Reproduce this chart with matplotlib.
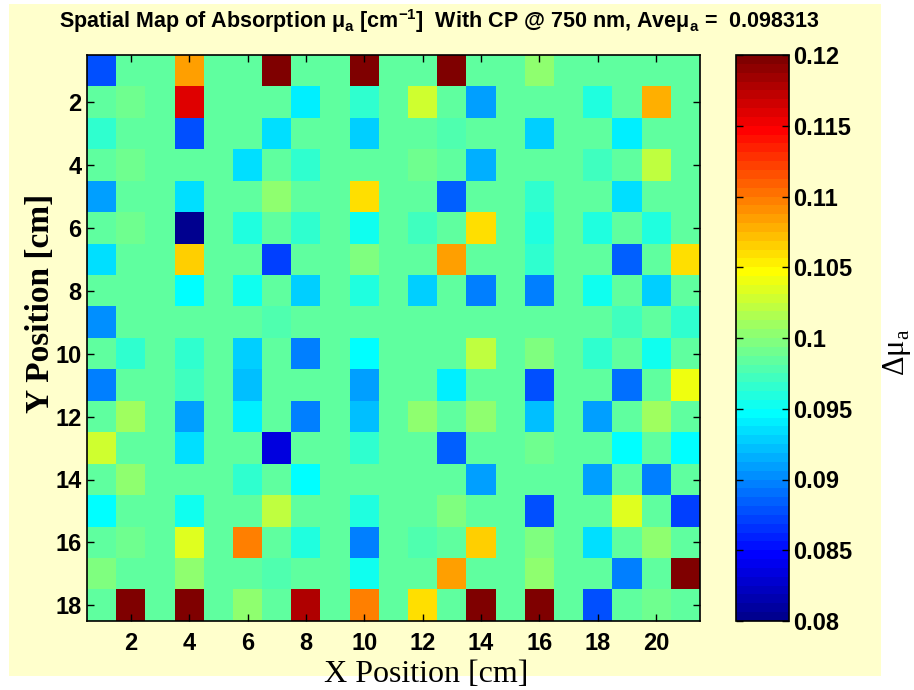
import numpy as np
import matplotlib
matplotlib.use('Agg')
import matplotlib.pyplot as plt
from matplotlib.colors import ListedColormap
from matplotlib.patches import Rectangle

# background absorption level (most cells)
B = 0.0984

# mu_a map, rows = Y position 1..18 (top to bottom), cols = X position 1..21
mu_a = [
    [0.0878, B, B, 0.1084, B, B, 0.12, B, B, 0.12, B, B, 0.12, B, B, 0.1006, B, B, B, B, B],
    [B, 0.099, B, 0.116, B, B, B, 0.0941, B, 0.0968, B, 0.1031, B, 0.0909, B, B, B, 0.096, B, 0.1075, B],
    [0.0968, B, B, 0.0878, B, B, 0.0934, B, B, 0.0928, B, B, 0.0978, B, B, 0.0928, B, B, 0.0941, B, B],
    [B, 0.099, B, B, B, 0.0934, B, 0.0966, B, B, B, 0.099, B, 0.0916, B, B, B, 0.0972, B, 0.1025, B],
    [0.0912, B, B, 0.0934, B, B, 0.1, B, B, 0.1062, B, B, 0.0884, B, B, 0.0966, B, B, 0.0934, B, B],
    [B, 0.099, B, 0.0803, B, 0.096, B, 0.0966, B, 0.0951, B, 0.0972, B, 0.1059, B, 0.096, B, 0.096, B, 0.096, B],
    [0.0934, B, B, 0.1066, B, B, 0.0872, B, B, 0.0997, B, B, 0.1084, B, B, 0.0966, B, B, 0.0884, B, 0.1059],
    [B, B, B, 0.0948, B, 0.0951, B, 0.0928, B, 0.096, B, 0.0928, B, 0.0897, B, 0.09, B, 0.0951, B, 0.0928, B],
    [0.0906, B, B, B, B, B, 0.0978, B, B, B, B, B, B, B, B, B, B, B, 0.0972, B, 0.0966],
    [B, 0.0966, B, 0.0966, B, 0.0925, B, 0.0897, B, 0.0948, B, B, B, 0.1019, B, 0.0997, B, 0.0966, B, 0.0951, B],
    [0.09, B, B, 0.0972, B, 0.0919, B, B, B, 0.0912, B, B, 0.0941, B, B, 0.0878, B, B, 0.0891, B, 0.1038],
    [B, 0.101, B, 0.0909, B, 0.0941, B, 0.09, B, 0.0922, B, 0.1, B, 0.1003, B, 0.0919, B, 0.0909, B, 0.101, B],
    [0.1031, B, B, 0.0934, B, B, 0.0834, B, B, 0.0966, B, B, 0.0884, B, B, 0.099, B, B, 0.0948, B, 0.0948],
    [B, 0.1, B, B, B, 0.0966, B, 0.0948, B, B, B, B, B, 0.0909, B, B, B, 0.0909, B, 0.09, B],
    [0.0948, B, B, 0.0951, B, B, 0.1019, B, B, 0.096, B, B, 0.0997, B, B, 0.0878, B, B, 0.1034, B, 0.0872],
    [B, 0.099, B, 0.1034, B, 0.1094, B, 0.096, B, 0.09, B, 0.0978, B, 0.1066, B, 0.0997, B, 0.0934, B, 0.1003, B],
    [0.0994, B, B, 0.1003, B, B, 0.0978, B, B, 0.0951, B, B, 0.1084, B, B, 0.1003, B, B, 0.0897, B, 0.12],
    [B, 0.12, B, 0.12, B, 0.1006, B, 0.118, B, 0.1097, B, 0.1059, B, 0.12, B, 0.12, B, 0.0878, B, 0.099, B],
]

x_ticks = [2, 4, 6, 8, 10, 12, 14, 16, 18, 20]
y_ticks = [2, 4, 6, 8, 10, 12, 14, 16, 18]
cbar_ticks = [0.08, 0.085, 0.09, 0.095, 0.1, 0.105, 0.11, 0.115, 0.12]
cbar_labels = ['0.08', '0.085', '0.09', '0.095', '0.1', '0.105', '0.11', '0.115', '0.12']
wavelength = 750
ave_mu_a = 0.098313


def matlab_jet(m=64):
    # same construction as MATLAB's jet(m)
    n = int(np.ceil(m / 4))
    u = np.concatenate([np.arange(1, n + 1) / n, np.ones(n - 1), np.arange(n, 0, -1) / n])
    g = int(np.ceil(n / 2)) - int(m % 4 == 1) + np.arange(1, len(u) + 1)
    r = g + n
    b = g - n
    g = g[g <= m]
    r = r[r <= m]
    b = b[b >= 1]
    J = np.zeros((m, 3))
    J[r - 1, 0] = u[:len(r)]
    J[g - 1, 1] = u[:len(g)]
    J[b - 1, 2] = u[len(u) - len(b):]
    return ListedColormap(J)


W, H = 914, 690
def fx(px):
    return px / W
def fy(py):
    return 1 - py / H

fig = plt.figure(figsize=(9.14, 6.9), dpi=100)
fig.patch.set_facecolor('white')
fig.patches.append(Rectangle((fx(9), fy(676)), fx(881) - fx(9), fy(4) - fy(676),
                             transform=fig.transFigure, facecolor='#ffffcc',
                             edgecolor='none', zorder=-10))

data = np.array(mu_a)
nrows, ncols = data.shape

ax = fig.add_axes([fx(87), fy(621), fx(700) - fx(87), fy(55) - fy(621)])
im = ax.imshow(data, cmap=matlab_jet(64), vmin=0.08, vmax=0.12,
               extent=(0.5, ncols + 0.5, nrows + 0.5, 0.5),
               aspect='auto', interpolation='nearest')
ax.set_xticks(x_ticks)
ax.set_yticks(y_ticks)
ax.tick_params(direction='in', top=True, right=True, length=5, width=1,
               labelsize=17)
ax.tick_params(axis='x', pad=8)
ax.tick_params(axis='y', pad=4)
for lab in ax.get_xticklabels() + ax.get_yticklabels():
    lab.set_fontweight('bold')
    lab.set_family('Liberation Sans')
for sp in ax.spines.values():
    sp.set_linewidth(1.2)

cax = fig.add_axes([fx(736), fy(621), fx(789) - fx(736), fy(55) - fy(621)])
cb = fig.colorbar(im, cax=cax, ticks=cbar_ticks)
cb.ax.set_yticklabels(cbar_labels)
cb.ax.tick_params(direction='in', left=True, right=True, length=5, width=1,
                  labelsize=17, pad=3)
for lab in cb.ax.get_yticklabels():
    lab.set_fontweight('bold')
    lab.set_family('Liberation Sans')
cb.outline.set_linewidth(1.2)

title = ('Spatial Map of Absorption μ$_\\mathregular{a}$ [cm$^\\mathregular{-1}$]  '
         'With CP @ %d nm, Aveμ$_\\mathregular{a}$ =  %.6f' % (wavelength, ave_mu_a))
fig.text(fx(439), fy(28), title, ha='center', va='baseline', fontsize=15.5,
         fontweight='bold', family='Liberation Sans')

fig.text(fx(426), fy(682), 'X Position [cm]', ha='center', va='baseline',
         fontsize=23, family='Liberation Serif')
fig.text(fx(41), fy(303), 'Y Position [cm]', ha='center', va='center',
         fontsize=24, fontweight='bold', family='Liberation Serif', rotation=90)
fig.text(fx(897), fy(352), 'Δμ$_\\mathregular{a}$', ha='center', va='center',
         fontsize=22, family='Liberation Serif', rotation=90)

fig.savefig('out.png', dpi=100)
